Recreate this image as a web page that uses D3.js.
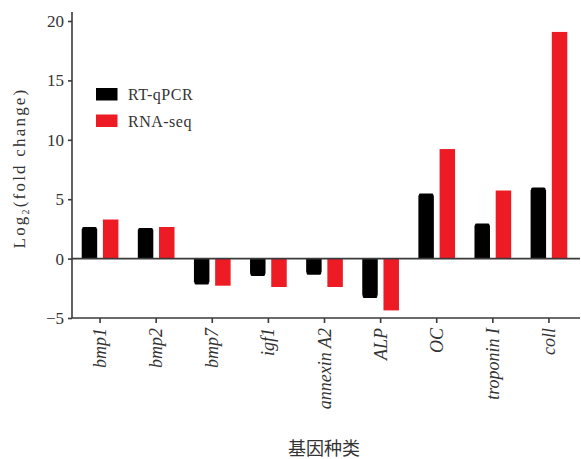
<!DOCTYPE html>
<html>
<head>
<meta charset="utf-8">
<script src="https://cdn.jsdelivr.net/npm/d3@7"></script>
<style>
  html, body { margin: 0; padding: 0; background: #fff; }
  svg text { fill: #333; }
</style>
</head>
<body>
<svg id="chart" width="581" height="459"></svg>
<script>
// Gene categories and log2 fold changes for the two methods
const genes = ["bmp1", "bmp2", "bmp7", "igf1", "annexin A2", "ALP", "OC", "troponin I", "coll"];
const seriesNames = ["RT-qPCR", "RNA-seq"];
const qpcrValues = [2.5, 2.44, -2.0, -1.28, -1.17, -3.12, 5.32, 2.8, 5.78];
const qpcrErrors = [0.08, 0.06, 0.1, 0.1, 0.1, 0.12, 0.08, 0.07, 0.12];
const rnaseqValues = [3.29, 2.66, -2.28, -2.39, -2.39, -4.36, 9.22, 5.73, 19.08];
const yTicks = [-5, 0, 5, 10, 15, 20];
const seriesColors = ["#000000", "#ed1c24"];

const svg = d3.select("#chart");
const plotLeft = 72, plotRight = 577, plotTop = 21, plotBottom = 318;
const axisColor = "#3a3a3a";

const x0 = d3.scaleBand().domain(genes).range([plotLeft, plotRight])
  .paddingInner(0.346).paddingOuter(0.173);
const x1 = d3.scaleBand().domain(seriesNames).range([0, x0.bandwidth()])
  .paddingInner(0.27);
const y = d3.scaleLinear().domain([-5, 20]).range([plotBottom, plotTop]);

const rows = genes.map((g, i) => ({
  gene: g,
  items: [
    { key: seriesNames[0], value: qpcrValues[i], err: qpcrErrors[i] },
    { key: seriesNames[1], value: rnaseqValues[i], err: 0 }
  ]
}));

// Bars
const groups = svg.append("g").selectAll("g").data(rows).join("g")
  .attr("transform", d => `translate(${x0(d.gene)},0)`);

groups.selectAll("rect.bar").data(d => d.items).join("rect")
  .attr("class", "bar")
  .attr("x", d => x1(d.key))
  .attr("width", x1.bandwidth())
  .attr("y", d => y(Math.max(0, d.value)))
  .attr("height", d => Math.abs(y(d.value) - y(0)))
  .attr("fill", (d, i) => seriesColors[i]);

// Error caps on the RT-qPCR bars (small rounded extension beyond the bar end)
groups.selectAll("rect.err").data(d => d.items.filter(it => it.err > 0)).join("rect")
  .attr("class", "err")
  .attr("x", d => x1(d.key) + 0.5)
  .attr("width", x1.bandwidth() - 1)
  .attr("y", d => Math.min(y(d.value), y(d.value + Math.sign(d.value) * d.err)) - 1)
  .attr("height", d => Math.abs(y(d.value + Math.sign(d.value) * d.err) - y(d.value)) + 2)
  .attr("rx", 1.5)
  .attr("fill", "#000");

// Zero line
svg.append("line")
  .attr("x1", plotLeft).attr("x2", 580)
  .attr("y1", y(0)).attr("y2", y(0))
  .attr("stroke", axisColor).attr("stroke-width", 1.6);

// Y axis
const yAxis = svg.append("g")
  .attr("transform", `translate(${plotLeft},0)`)
  .call(d3.axisLeft(y).tickValues(yTicks).tickSize(4).tickSizeOuter(0).tickPadding(4)
    .tickFormat(d => d < 0 ? "\u2212" + Math.abs(d) : d));
yAxis.select(".domain").attr("d", `M0,${plotBottom}V12`);
yAxis.selectAll("path, line").attr("stroke", axisColor).attr("stroke-width", 1.6);
yAxis.selectAll("text")
  .style("font-family", "'Liberation Serif', 'Times New Roman', serif")
  .style("font-size", "17px").style("fill", "#333");

// X axis
const xAxis = svg.append("g")
  .attr("transform", `translate(0,${plotBottom})`)
  .call(d3.axisBottom(x0).tickSize(5).tickSizeOuter(0).tickFormat(""));
xAxis.select(".domain").attr("d", `M${plotLeft},0H580`);
xAxis.selectAll("path, line").attr("stroke", axisColor).attr("stroke-width", 1.6);

// Rotated italic gene labels
svg.append("g").selectAll("text").data(genes).join("text")
  .attr("transform", d => `translate(${x0(d) + x0.bandwidth() / 2 + 6},${plotBottom + 10}) rotate(-90)`)
  .attr("text-anchor", "end")
  .style("font-family", "'Liberation Serif', 'Times New Roman', serif")
  .style("font-style", "italic")
  .style("font-size", "18px")
  .text(d => d);

// Y axis title with subscript
const yTitle = svg.append("text")
  .attr("transform", `translate(25,168) rotate(-90)`)
  .attr("text-anchor", "middle")
  .style("font-family", "'Liberation Serif', 'Times New Roman', serif")
  .style("font-size", "17px")
  .style("letter-spacing", "2.2px");
yTitle.append("tspan").text("Log");
yTitle.append("tspan").text("2").attr("dy", 4).style("font-size", "10px");
yTitle.append("tspan").text("(fold change)").attr("dy", -4);

// X axis title
svg.append("text")
  .attr("x", 324).attr("y", 455)
  .attr("text-anchor", "middle")
  .style("font-family", "'Noto Sans CJK SC', sans-serif")
  .style("font-size", "18px")
  .text("基因种类");

// Legend
const legend = svg.append("g").selectAll("g").data(seriesNames).join("g")
  .attr("transform", (d, i) => `translate(96,${88 + i * 26.5})`);
legend.append("rect")
  .attr("width", 21.5).attr("height", 12.5)
  .attr("fill", (d, i) => seriesColors[i]);
legend.append("text")
  .attr("x", 32).attr("y", 12)
  .style("font-family", "'Liberation Serif', 'Times New Roman', serif")
  .style("font-size", "16px")
  .style("letter-spacing", "0.5px")
  .text(d => d);
</script>
</body>
</html>
